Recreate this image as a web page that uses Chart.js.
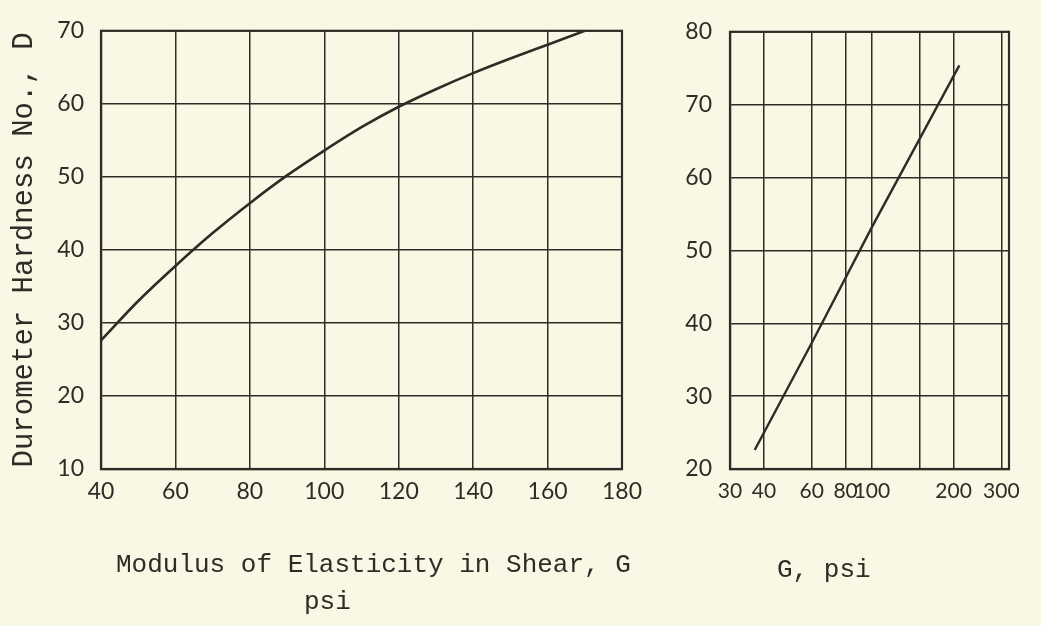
<!DOCTYPE html>
<html>
<head>
<meta charset="utf-8">
<script src="https://cdn.jsdelivr.net/npm/chart.js@4/dist/chart.umd.min.js"></script>
<style>
  html, body { margin: 0; padding: 0; background: #faf8e5; }
  body { width: 1041px; height: 626px; position: relative; overflow: hidden; }
  canvas { position: absolute; top: 0; }
  #left { left: 0; }
  #right { left: 660px; }
</style>
</head>
<body>
<canvas id="left" width="660" height="626"></canvas>
<canvas id="right" width="381" height="626"></canvas>
<script>
// Durometer hardness vs. shear modulus, linear plot
const shearModulus = [40, 50, 60, 70, 80, 90, 100, 110, 120, 130, 140, 150, 160, 170];
const hardness     = [27.6, 33.0, 37.8, 42.3, 46.4, 50.2, 53.6, 56.8, 59.6, 62.0, 64.2, 66.2, 68.1, 70.0];

// Same relation on a logarithmic G axis
const logModulus  = [37, 60, 100, 210];
const logHardness = [22.6, 37.3, 53.2, 75.4];

// Log axis grid positions and their printed labels
const logTickValues = [30, 40, 60, 80, 100, 150, 200, 300];
const logTickLabels = ['30', '40', '60', '80', '100', '', '200', '300'];

// Axis captions
const leftXTitle  = ['Modulus of Elasticity in Shear, G', 'psi'];
const rightXTitle = ['G, psi'];
const leftYTitle  = 'Durometer Hardness No., D';

const ink = '#2d2c26';
const captionFont = '26px "Liberation Mono", monospace';

Chart.defaults.animation = false;
Chart.defaults.color = ink;

function gridOpts() {
  return { color: ink, lineWidth: 1.5, drawTicks: false };
}
function borderOpts() {
  return { display: true, color: ink, width: 2.2 };
}

// Closes the plot frame on all four sides
const framePlugin = {
  id: 'frame',
  afterDatasetsDraw(chart) {
    const { ctx, chartArea: a } = chart;
    ctx.save();
    ctx.strokeStyle = ink;
    ctx.lineWidth = 2.2;
    ctx.strokeRect(a.left, a.top, a.right - a.left, a.bottom - a.top);
    ctx.restore();
  }
};

// Typewritten caption lines placed under the plot area
const captionPlugin = {
  id: 'caption',
  afterDraw(chart, args, opts) {
    const { ctx, chartArea: a } = chart;
    ctx.save();
    ctx.font = captionFont;
    ctx.fillStyle = ink;
    ctx.textAlign = 'left';
    ctx.textBaseline = 'middle';
    opts.lines.forEach((text, i) => {
      const p = opts.offsets[i];
      ctx.fillText(text, a.left + p[0], a.bottom + p[1]);
    });
    ctx.restore();
  }
};

new Chart(document.getElementById('left'), {
  type: 'line',
  data: {
    datasets: [{
      data: shearModulus.map((g, i) => ({ x: g, y: hardness[i] })),
      borderColor: ink,
      borderWidth: 2.6,
      pointRadius: 0,
      cubicInterpolationMode: 'monotone',
      fill: false
    }]
  },
  plugins: [framePlugin, captionPlugin],
  options: {
    responsive: false,
    devicePixelRatio: 1,
    layout: { padding: { top: 29, right: 38, left: 0, bottom: 0 } },
    plugins: {
      legend: { display: false },
      tooltip: { enabled: false },
      caption: { lines: leftXTitle, offsets: [[15, 96], [203, 133]] }
    },
    scales: {
      x: {
        type: 'linear', min: 40, max: 180,
        ticks: { stepSize: 20, font: { family: 'Lato', size: 23 }, padding: 9, maxRotation: 0, autoSkip: false },
        grid: gridOpts(),
        border: borderOpts(),
        afterFit: s => { s.height = 157; }
      },
      y: {
        type: 'linear', min: 10, max: 70,
        ticks: { stepSize: 10, font: { family: 'Lato', size: 23 }, padding: 17 },
        grid: gridOpts(),
        border: borderOpts(),
        title: {
          display: true,
          text: leftYTitle,
          font: { family: '"Liberation Mono", monospace', size: 29, lineHeight: 1.2 },
          color: ink,
          padding: { top: 7, bottom: 0 }
        },
        afterFit: s => { s.width = 101; }
      }
    }
  }
});

new Chart(document.getElementById('right'), {
  type: 'line',
  data: {
    datasets: [{
      data: logModulus.map((g, i) => ({ x: g, y: logHardness[i] })),
      borderColor: ink,
      borderWidth: 2.4,
      pointRadius: 0,
      tension: 0,
      fill: false
    }]
  },
  plugins: [framePlugin, captionPlugin],
  options: {
    responsive: false,
    devicePixelRatio: 1,
    layout: { padding: { top: 30, right: 32, left: 0, bottom: 0 } },
    plugins: {
      legend: { display: false },
      tooltip: { enabled: false },
      caption: { lines: rightXTitle, offsets: [[47, 101]] }
    },
    scales: {
      x: {
        type: 'logarithmic', min: 30, max: 320,
        afterBuildTicks: s => { s.ticks = logTickValues.map(v => ({ value: v })); },
        ticks: {
          font: { family: 'Lato', size: 21 }, padding: 10, maxRotation: 0, autoSkip: false,
          callback: (v) => logTickLabels[logTickValues.indexOf(v)] ?? ''
        },
        grid: gridOpts(),
        border: borderOpts(),
        afterFit: s => { s.height = 157; }
      },
      y: {
        type: 'linear', min: 20, max: 80,
        ticks: { stepSize: 10, font: { family: 'Lato', size: 23 }, padding: 18 },
        grid: gridOpts(),
        border: borderOpts(),
        afterFit: s => { s.width = 70; }
      }
    }
  }
});
</script>
</body>
</html>
